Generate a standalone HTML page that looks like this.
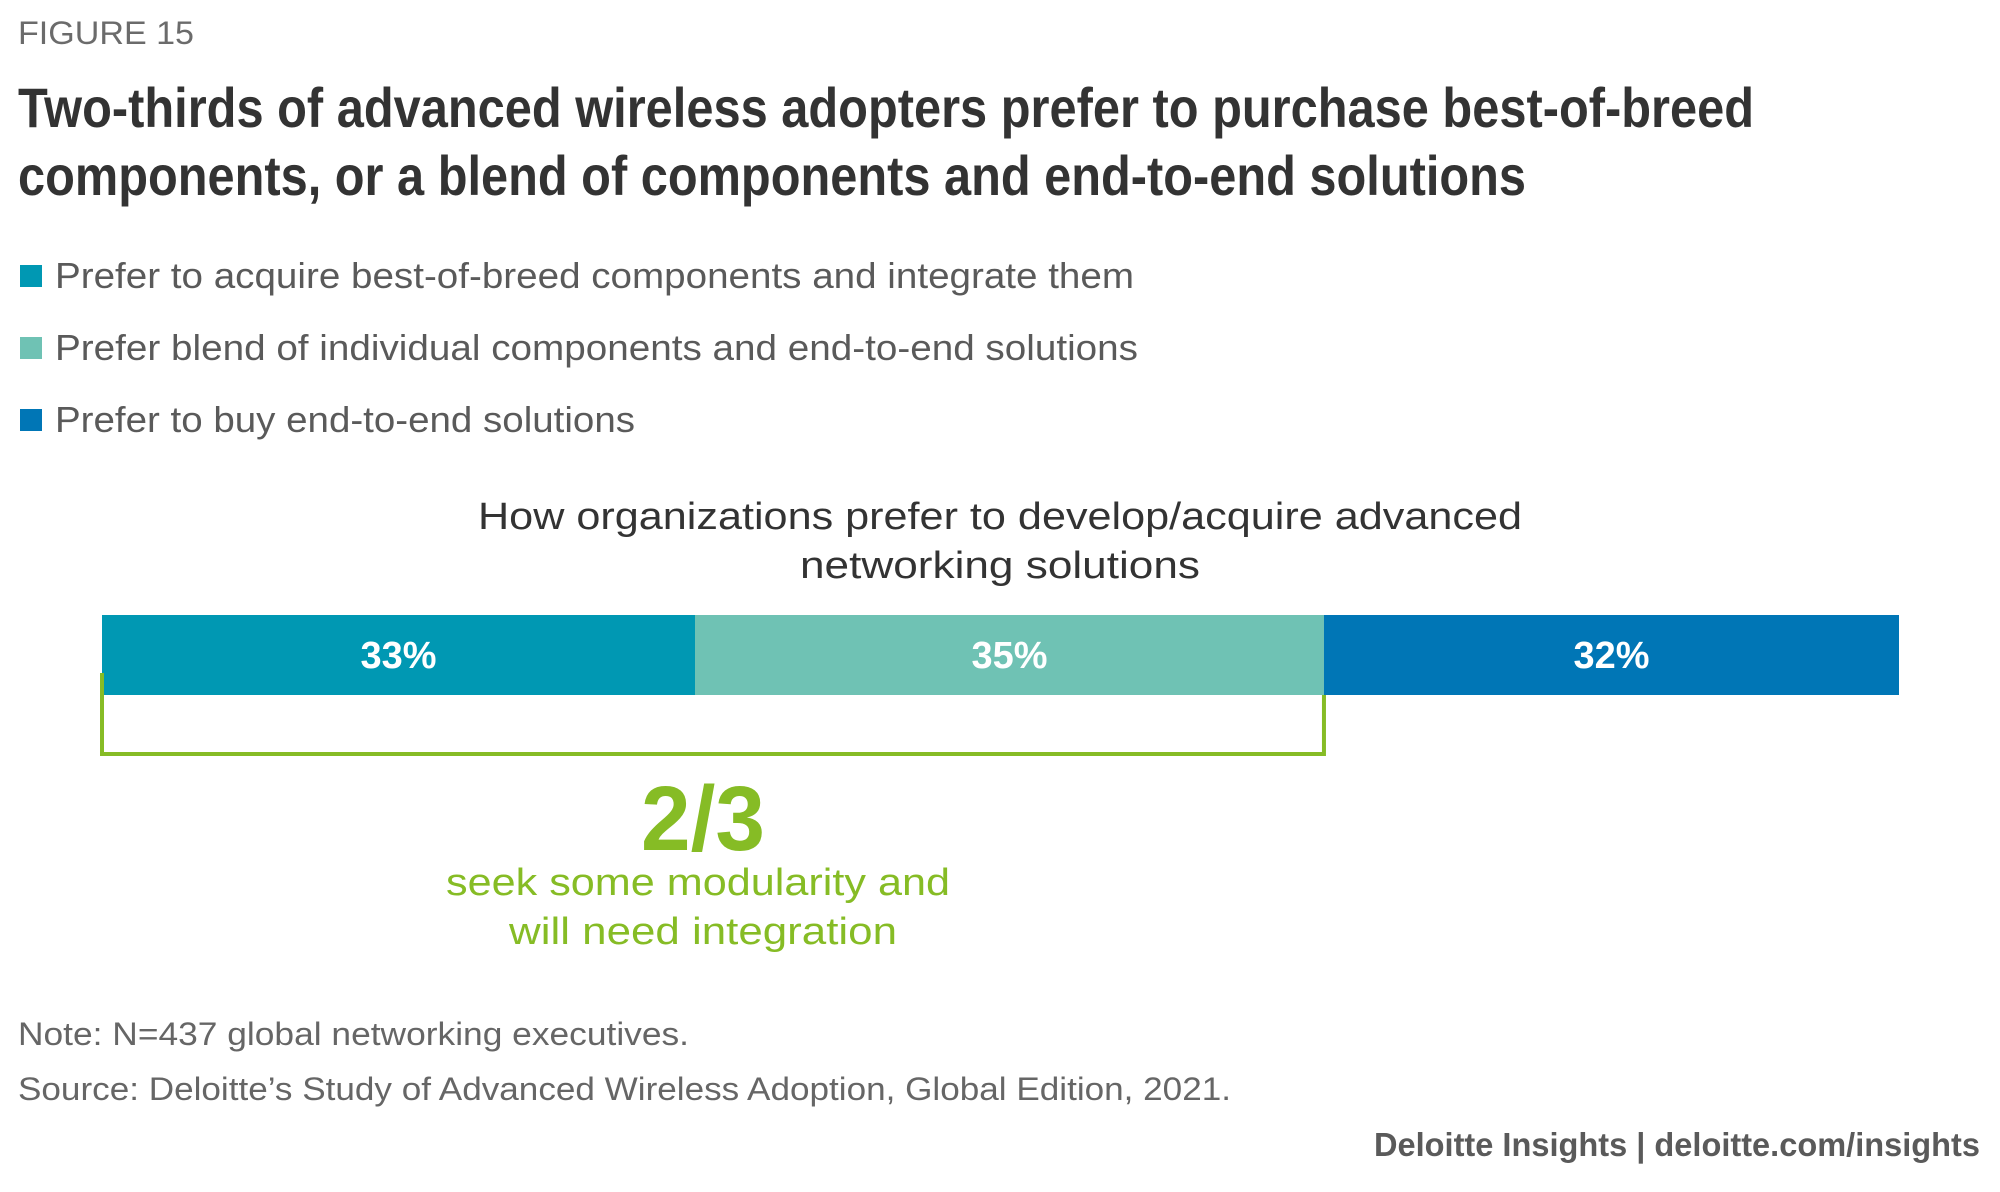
<!DOCTYPE html>
<html><head><meta charset="utf-8"><style>
html,body{margin:0;padding:0;background:#fff;}
svg{display:block;font-family:"Liberation Sans",sans-serif;}
</style></head><body>
<svg id="chart" width="2000" height="1192" viewBox="0 0 2000 1192" xmlns="http://www.w3.org/2000/svg">
<text x="18" y="44" font-size="32" fill="#6b6b6b" textLength="176" lengthAdjust="spacingAndGlyphs">FIGURE 15</text>
<g font-weight="bold" fill="#333" font-size="56">
<text x="18" y="127" textLength="1736" lengthAdjust="spacingAndGlyphs">Two-thirds of advanced wireless adopters prefer to purchase best-of-breed</text>
<text x="18" y="195" textLength="1508" lengthAdjust="spacingAndGlyphs">components, or a blend of components and end-to-end solutions</text>
</g>
<g id="legend"></g>
<g fill="#333" font-size="38" text-anchor="middle">
<text x="1000" y="529" textLength="1044" lengthAdjust="spacingAndGlyphs">How organizations prefer to develop/acquire advanced</text>
<text x="1000" y="578" textLength="400" lengthAdjust="spacingAndGlyphs">networking solutions</text>
</g>
<g id="bars"></g>
<path id="bracket" fill="none" stroke="#86bc25" stroke-width="4"/>
<g fill="#86bc25" text-anchor="middle">
<text x="703" y="850" font-size="92" font-weight="bold" textLength="124" lengthAdjust="spacingAndGlyphs">2/3</text>
<text x="698" y="895" font-size="38" textLength="504" lengthAdjust="spacingAndGlyphs">seek some modularity and</text>
<text x="703" y="944" font-size="38" textLength="388" lengthAdjust="spacingAndGlyphs">will need integration</text>
</g>
<text x="18" y="1045" font-size="32" fill="#666" textLength="671" lengthAdjust="spacingAndGlyphs">Note: N=437 global networking executives.</text>
<text x="18" y="1100" font-size="32" fill="#666" textLength="1213" lengthAdjust="spacingAndGlyphs">Source: Deloitte’s Study of Advanced Wireless Adoption, Global Edition, 2021.</text>
<text x="1980" y="1156" font-size="33" font-weight="bold" fill="#5a5a5a" text-anchor="end" textLength="606" lengthAdjust="spacingAndGlyphs">Deloitte Insights | deloitte.com/insights</text>
</svg>
<script>
const categories = ["Prefer to acquire best-of-breed components and integrate them","Prefer blend of individual components and end-to-end solutions","Prefer to buy end-to-end solutions"];
const values = [33, 35, 32];
const valueLabels = ["33%","35%","32%"];
const colors = ["#0098b3","#6fc2b4","#0076b6"];
const NS="http://www.w3.org/2000/svg";
const x0=102, x1=1899, barTop=615, barH=80;
const total=values.reduce((a,b)=>a+b,0);
const xScale=v=>x0+(v/total)*(x1-x0);
const legendW=[1079,1083,580];
const lg=document.getElementById('legend');
categories.forEach((c,i)=>{
  const cy=276+i*72;
  const r=document.createElementNS(NS,'rect');
  r.setAttribute('x',20);r.setAttribute('y',cy-11);r.setAttribute('width',22);r.setAttribute('height',22);r.setAttribute('fill',colors[i]);
  
  
  lg.appendChild(r);
  const t=document.createElementNS(NS,'text');
  t.setAttribute('x',55);t.setAttribute('y',cy+12);t.setAttribute('font-size',36);t.setAttribute('fill','#5a5a5a');
  t.setAttribute('textLength',legendW[i]);t.setAttribute('lengthAdjust','spacingAndGlyphs');
  t.textContent=c;
  
  
  lg.appendChild(t);
});
const bg=document.getElementById('bars');
let cum=0;
values.forEach((v,i)=>{
  const xa=xScale(cum), xb=xScale(cum+v);
  const r=document.createElementNS(NS,'rect');
  r.setAttribute('x',xa);r.setAttribute('y',barTop);r.setAttribute('width',xb-xa);r.setAttribute('height',barH);r.setAttribute('fill',colors[i]);
  
  
  bg.appendChild(r);
  const t=document.createElementNS(NS,'text');
  t.setAttribute('x',(xa+xb)/2);t.setAttribute('y',barTop+barH/2+13);t.setAttribute('font-size',38);t.setAttribute('font-weight','bold');
  t.setAttribute('fill','#fff');t.setAttribute('text-anchor','middle');
  t.setAttribute('textLength',76);t.setAttribute('lengthAdjust','spacingAndGlyphs');
  t.textContent=valueLabels[i];
  
  
  bg.appendChild(t);
  cum+=v;
});
const bx=xScale(values[0]+values[1]);
document.getElementById('bracket').setAttribute('d',`M${x0} 673 V754 H${bx} V${barTop+barH}`);
</script>
</body></html>
